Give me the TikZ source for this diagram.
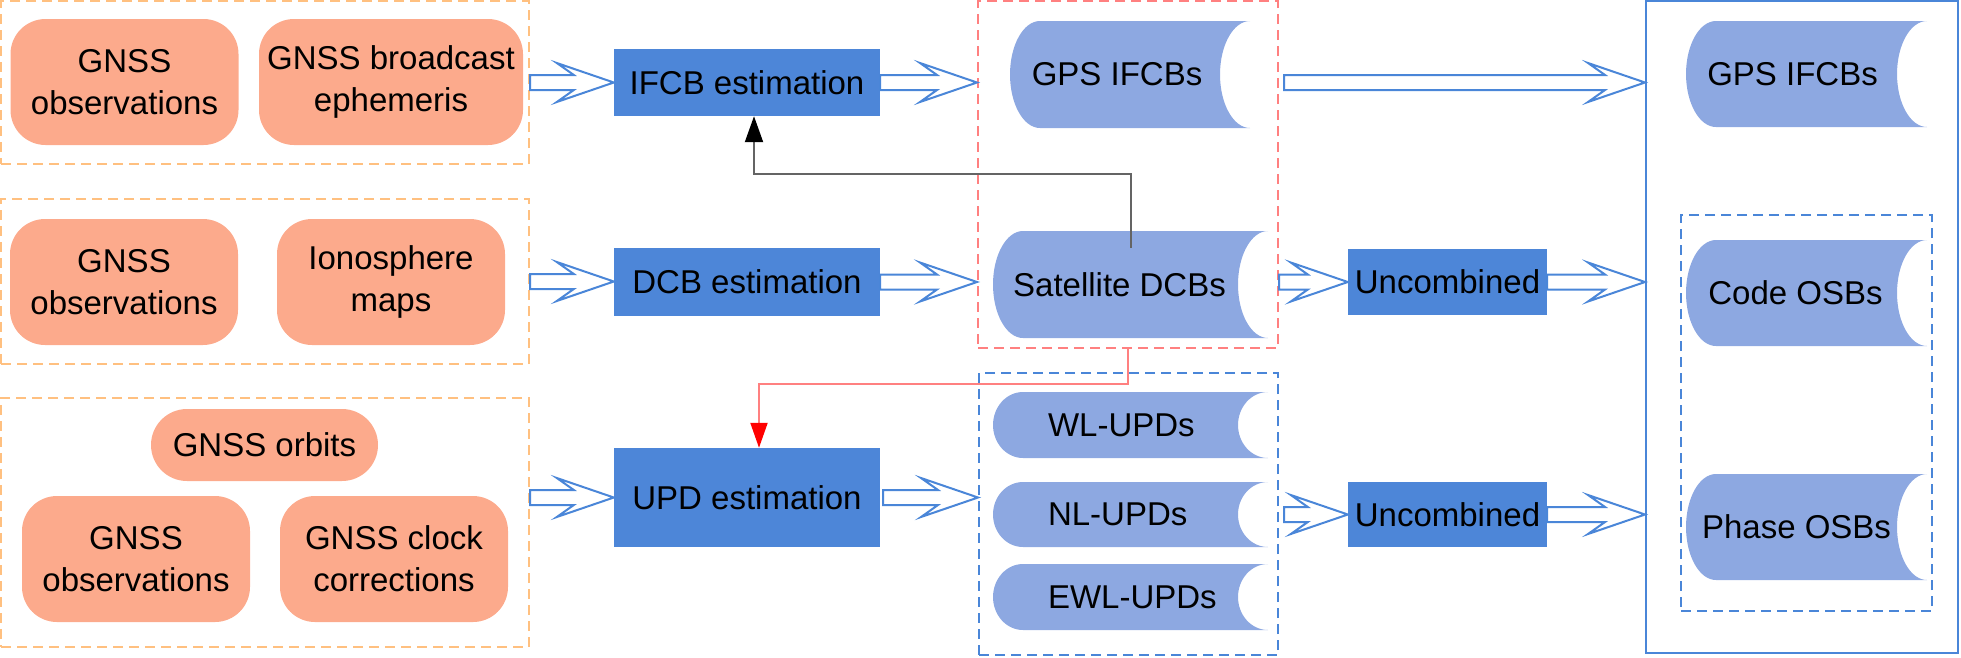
\documentclass[tikz,border=0pt]{standalone}
\usepackage{fontspec}
\setmainfont{Liberation Sans}
\usetikzlibrary{arrows.meta,calc}

\definecolor{inorange}{RGB}{252,170,140}
\definecolor{procblue}{RGB}{77,134,216}
\definecolor{storeblue}{RGB}{141,168,225}
\definecolor{linkblue}{RGB}{74,134,216}
\definecolor{dashorange}{RGB}{255,192,128}
\definecolor{dashred}{RGB}{255,128,128}
\definecolor{linkgrey}{RGB}{100,100,100}

\tikzset{
    inbox/.style={fill=inorange, rounded corners=35pt, align=center, inner sep=0pt,
        minimum width=228pt, minimum height=126pt},
    procbox/.style={fill=procblue, inner sep=0pt, minimum width=266pt},
    group/.style={draw=#1, line width=2pt, dash pattern=on 10pt off 6pt,
        inner sep=0pt},
    store/.style 2 args={inner sep=0pt, minimum width=#1, minimum height=#2,
        path picture={
            \fill[storeblue] let \p1=(path picture bounding box.south west),
                \p2=(path picture bounding box.north east) in
                (\x1+30pt,\y2) -- (\x2,\y2)
                arc[start angle=90, end angle=270, x radius=30pt, y radius=#2/2]
                -- (\x1+30pt,\y1)
                arc[start angle=270, end angle=90, x radius=30pt, y radius=#2/2]
                -- cycle;
        }},
    every label/.style={inner sep=0pt},
    hollow/.style={draw=linkblue, line width=2pt, fill=white,
        to path={let \p1=(\tikztostart), \p2=(\tikztotarget) in
            (\x1,\y1+7.5pt) -- (\x2-40pt,\y1+7.5pt) -- (\x2-57pt,\y1+19.5pt)
            -- (\x2,\y1) -- (\x2-57pt,\y1-19.5pt) -- (\x2-40pt,\y1-7.5pt)
            -- (\x1,\y1-7.5pt) -- cycle}},
}

\begin{document}
\begin{tikzpicture}[x=1pt, y=-1pt, font=\fontsize{33}{42}\selectfont]
    \useasboundingbox (0,0) rectangle (1961,657);

    % inputs
    \node[group=dashorange, minimum width=528pt, minimum height=163pt] (inA) at (265,82.5) {};
    \node[group=dashorange, minimum width=528pt, minimum height=165pt] (inB) at (265,281.5) {};
    \node[group=dashorange, minimum width=528pt, minimum height=249pt] (inC) at (265,522.5) {};

    \node[inbox] (obsA) at (124.5,82) {GNSS\\observations};
    \node[inbox, minimum width=264pt] (eph) at (391,82) {GNSS broadcast\\ephemeris};
    \node[inbox] (obsB) at (124,282) {GNSS\\observations};
    \node[inbox] (iono) at (391,282) {Ionosphere\\maps};
    \node[inbox, minimum width=227pt, minimum height=72pt, rounded corners=36pt] (orbit) at (264.5,445) {GNSS orbits};
    \node[inbox] (obsC) at (136,559) {GNSS\\observations};
    \node[inbox] (clock) at (394,559) {GNSS clock\\corrections};

    % estimation
    \node[procbox, minimum height=67pt] (ifcb) at (747,82.5) {IFCB estimation};
    \node[procbox, minimum height=68pt] (dcb) at (747,282) {DCB estimation};
    \node[procbox, minimum height=99pt] (upd) at (747,497.5) {UPD estimation};

    % products
    \node[group=dashred, minimum width=300pt, minimum height=347pt] (dcbbox) at (1128,174.5) {};
    \node[group=linkblue, minimum width=299pt, minimum height=282pt] (updbox) at (1128.5,514) {};

    \node[store={240pt}{107pt}, label={[xshift=-13pt]center:GPS IFCBs}] (gpsmid) at (1130,74.5) {};
    \node[store={275pt}{107pt}, label={[xshift=-11pt]center:Satellite DCBs}] (satdcb) at (1130.5,284.5) {};
    \node[store={275pt}{66pt}, label={[anchor=west, xshift=55pt]west:WL-UPDs}] (wlupd) at (1130.5,425) {};
    \node[store={275pt}{65pt}, label={[anchor=west, xshift=55pt]west:NL-UPDs}] (nlupd) at (1130.5,514.5) {};
    \node[store={275pt}{66pt}, label={[anchor=west, xshift=55pt]west:EWL-UPDs}] (ewlupd) at (1130.5,597) {};

    \node[fill=procblue, inner sep=0pt, minimum width=199pt, minimum height=66pt] (uncA) at (1447.5,282) {Uncombined};
    \node[fill=procblue, inner sep=0pt, minimum width=199pt, minimum height=65pt] (uncB) at (1447.5,514.5) {Uncombined};

    % output
    \node[draw=linkblue, line width=2pt, inner sep=0pt, minimum width=312pt, minimum height=652pt] (outbox) at (1802,327) {};
    \node[group=linkblue, minimum width=251pt, minimum height=396pt] (osbbox) at (1806.5,413) {};

    \node[store={241pt}{106pt}, label={[xshift=-14pt]center:GPS IFCBs}] (gpsout) at (1806.5,74) {};
    \node[store={241pt}{106pt}, label={[xshift=-11pt]center:Code OSBs}] (codeosb) at (1806.5,293) {};
    \node[store={241pt}{106pt}, label={[xshift=-10pt]center:Phase OSBs}] (phaseosb) at (1806.5,527) {};

    % flows
    \draw[hollow] (inA.east) to (ifcb.west);
    \draw[hollow] (ifcb.east) to (ifcb.east -| dcbbox.west);
    \draw[hollow] (inB.east) to (dcb.west);
    \draw[hollow] (dcb.east) to (dcb.east -| dcbbox.west);
    \draw[hollow] (upd.west -| inC.east) to (upd.west);
    \draw[hollow] ($(upd.east)+(3,0)$) to ($(upd.east -| updbox.west)$);
    \draw[hollow] ($(ifcb.east -| dcbbox.east)+(5,0)$) to (ifcb.east -| outbox.west);
    \draw[hollow] (uncA.west -| dcbbox.east) to (uncA.west);
    \draw[hollow] (uncA.east) to (uncA.east -| outbox.west);
    \draw[hollow] ($(uncB.west -| updbox.east)+(5,0)$) to (uncB.west);
    \draw[hollow] (uncB.east) to (uncB.east -| outbox.west);

    \draw[linkgrey, line width=2pt, -{Triangle[length=26pt, width=18pt, color=black]}]
        ([yshift=-17pt]satdcb.north) -- ++(0,-74) -| ([xshift=7pt]ifcb.south);
    \draw[dashred, line width=2pt, -{Triangle[length=25pt, width=17pt, color=red]}]
        (dcbbox.south) -- ++(0,35) -| ([xshift=12pt]upd.north);
\end{tikzpicture}
\end{document}
